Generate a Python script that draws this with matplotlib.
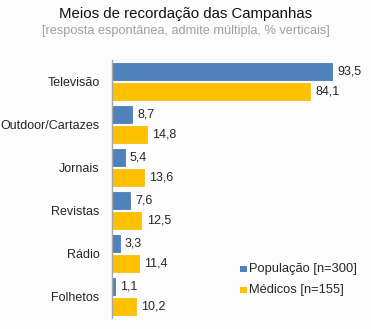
import numpy as np
import matplotlib.pyplot as plt
from matplotlib.patches import Rectangle

plt.rcParams["font.family"] = ["Liberation Sans", "DejaVu Sans"]

categories = ["Televisão", "Outdoor/Cartazes", "Jornais", "Revistas", "Rádio", "Folhetos"]
populacao = [93.5, 8.7, 5.4, 7.6, 3.3, 1.1]
medicos = [84.1, 14.8, 13.6, 12.5, 11.4, 10.2]
series_names = ["População [n=300]", "Médicos [n=155]"]

blue = "#4F81BD"
orange = "#FFC000"

fig = plt.figure(figsize=(3.71, 3.29), dpi=100, facecolor="#FCFCFC")
ax = fig.add_axes([112 / 371, 11 / 329, 248 / 371, 258 / 329])
ax.set_facecolor("#FCFCFC")

n = len(categories)
y = np.arange(n)
h = 0.4
gap = 0.05
ax.barh(y - (h + gap) / 2, populacao, height=h, color=blue, edgecolor="#3E6FA8", linewidth=0.5)
ax.barh(y + (h + gap) / 2, medicos, height=h, color=orange, edgecolor="#F5B800", linewidth=0.5)

def fmt(v):
    return ("%.1f" % v).replace(".", ",")

for i in range(n):
    ax.text(populacao[i] + 2.2, y[i] - (h + gap) / 2, fmt(populacao[i]), va="center", ha="left",
            fontsize=9, color="#262626")
    ax.text(medicos[i] + 2.2, y[i] + (h + gap) / 2, fmt(medicos[i]), va="center", ha="left",
            fontsize=9, color="#262626")

ax.set_xlim(0, 105.4)
ax.set_ylim(n - 0.5, -0.5)
ax.set_yticks(y)
ax.set_yticklabels(categories, fontsize=9, color="#262626")
ax.tick_params(axis="y", length=0, pad=9)
ax.set_xticks([])
for s in ["top", "right", "bottom"]:
    ax.spines[s].set_visible(False)
ax.spines["left"].set_color("#A6A6A6")
ax.spines["left"].set_linewidth(1)

fig.text(0.5, 1 - 14 / 329, "Meios de recordação das Campanhas", ha="center", va="center",
         fontsize=10.8, color="#111111")
fig.text(0.5, 1 - 31 / 329, "[resposta espontânea, admite múltipla, % verticais]", ha="center",
         va="center", fontsize=9.2, color="#A0A0A0")

# legend
for k, (name, col) in enumerate(zip(series_names, [blue, orange])):
    ly = 1 - (269 + k * 21) / 329
    fig.patches.append(Rectangle((240 / 371, ly - 3 / 329), 7 / 371, 6 / 329,
                                 transform=fig.transFigure, facecolor=col, edgecolor="none"))
    fig.text(249 / 371, ly, name, ha="left", va="center", fontsize=9.3, color="#262626")

fig.savefig("out.png", dpi=100, facecolor=fig.get_facecolor())
